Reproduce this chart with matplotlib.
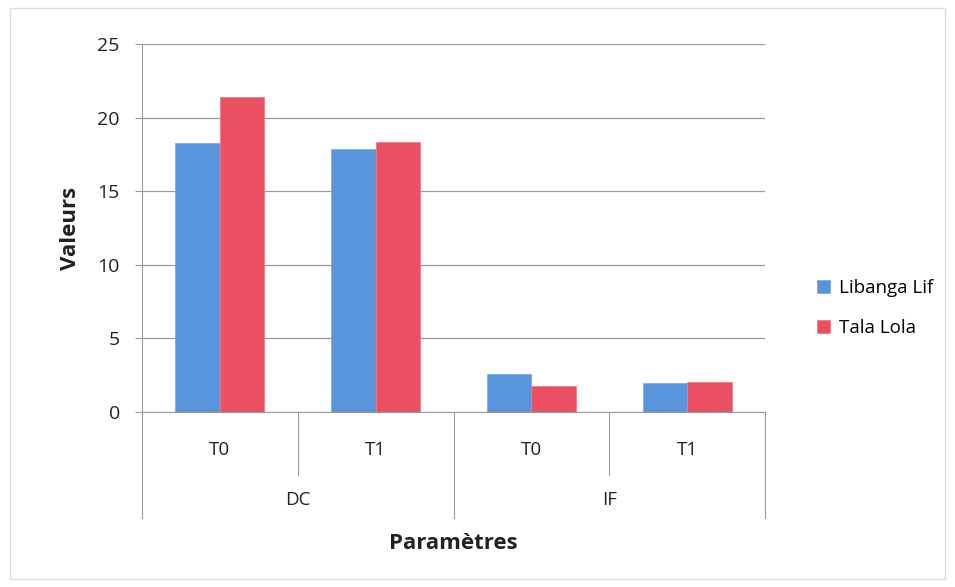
import matplotlib.pyplot as plt
import matplotlib.transforms as mtransforms
import numpy as np

# data
groups = ["DC", "IF"]
periods = ["T0", "T1", "T0", "T1"]
series_names = ["Libanga Lif", "Tala Lola"]
libanga = [18.25, 17.9, 2.6, 1.95]
tala = [21.4, 18.35, 1.8, 2.05]
yticks = [0, 5, 10, 15, 20, 25]

blue = "#5895DC"
red = "#EA5062"
grid_col = "#9a9a9a"

plt.rcParams["font.family"] = ["Open Sans", "DejaVu Sans"]

fig = plt.figure(figsize=(9.55, 5.87), dpi=100)
ax = fig.add_axes([142 / 955, 1 - 412 / 587, 623 / 955, 368 / 587])

x = np.arange(len(periods))
w = 0.286
ax.bar(x - w / 2, libanga, w, color=blue, edgecolor="#7aaae3", linewidth=0.6,
       label=series_names[0], zorder=3)
ax.bar(x + w / 2, tala, w, color=red, edgecolor="#f07a85", linewidth=0.6,
       label=series_names[1], zorder=3)

ax.set_xlim(-0.5, 3.5)
ax.set_ylim(0, 25)
ax.set_yticks(yticks)
ax.tick_params(axis="y", labelsize=14, length=5, color=grid_col, pad=11,
               labelcolor="#222222")
ax.set_xticks([])
ax.yaxis.grid(True, color=grid_col, linewidth=0.9, zorder=0)
for s in ["top", "right"]:
    ax.spines[s].set_visible(False)
ax.spines["left"].set_color(grid_col)
ax.spines["bottom"].set_color(grid_col)

# two-level category axis
trans = mtransforms.blended_transform_factory(ax.transData, ax.transAxes)
for xi in [0.5, 2.5]:
    ax.plot([xi, xi], [0, -0.171], color=grid_col, lw=0.8, transform=trans, clip_on=False)
for xi in [-0.5, 1.5, 3.5]:
    ax.plot([xi, xi], [0, -0.288], color=grid_col, lw=0.8, transform=trans, clip_on=False)
for xi, lab in zip(x, periods):
    ax.text(xi, -0.103, lab, transform=trans, ha="center", va="center",
            fontsize=13.5, color="#222222")
for gi, g in enumerate(groups):
    ax.text(0.5 + 2 * gi, -0.239, g, transform=trans, ha="center", va="center",
            fontsize=13.5, color="#222222")

ax.text(1.5, -0.357, "Paramètres", transform=trans, ha="center", va="center",
        fontsize=16, fontweight="bold", color="#222222")
ax.set_ylabel("Valeurs", fontsize=16, fontweight="bold", color="#222222", labelpad=12)

fig.legend(loc="center left", bbox_to_anchor=(800 / 955, 1 - 308 / 587),
           frameon=False, fontsize=13.5, handlelength=0.7, handleheight=0.7,
           handletextpad=0.5, labelspacing=1.2)

# faint chart border
fig.patches.append(plt.Rectangle((10 / 955, 8 / 587), 935 / 955, 571 / 587,
                                 transform=fig.transFigure, fill=False,
                                 edgecolor="#dddddd", linewidth=1))

fig.savefig("out.png", dpi=100)
